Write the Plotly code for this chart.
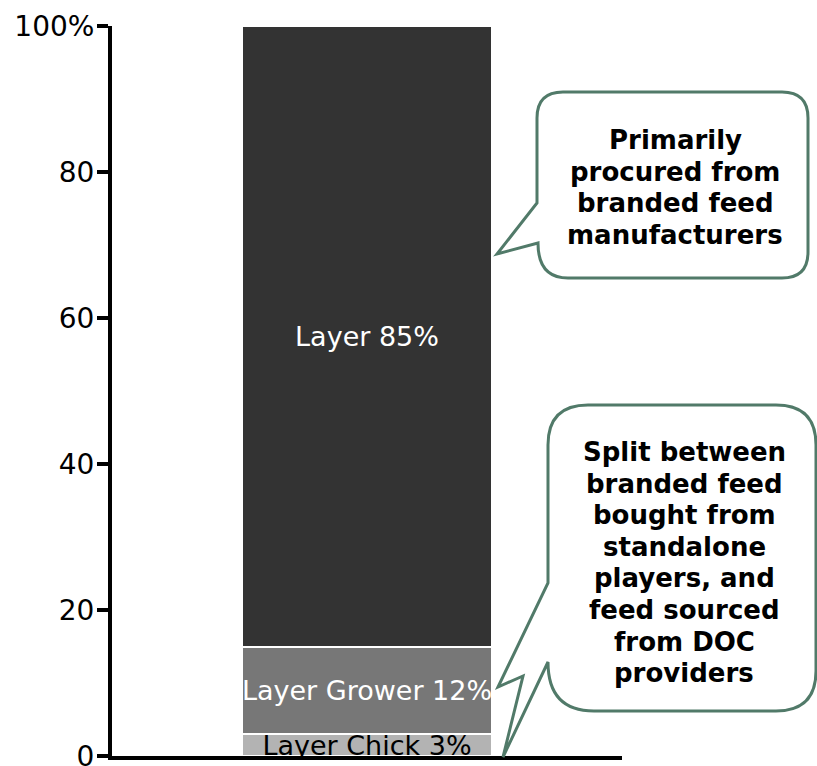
import plotly.graph_objects as go

# Feed volume split for layer birds (share of total, %)
category = ["Layer feed"]
segments = ["Layer Chick", "Layer Grower", "Layer"]
shares = [3, 12, 85]
seg_colors = ["#b3b3b3", "#777777", "#333333"]
text_colors = ["#000000", "#ffffff", "#ffffff"]

tick_vals = [0, 20, 40, 60, 80, 100]
tick_text = ["0", "20", "40", "60", "80", "100%"]

callout_top = ["Primarily", "procured from", "branded feed", "manufacturers"]
callout_bottom = ["Split between", "branded feed", "bought from", "standalone",
                  "players, and", "feed sourced", "from DOC", "providers"]

W, H = 817, 766
ML, MR, MT, MB = 112, 195, 26, 10
PW, PH = W - ML - MR, H - MT - MB

FONT = "DejaVu Sans"
EDGE = "#517a69"


def px(x, y):
    """Pixel position on the page -> paper coordinates."""
    return (x - ML) / PW, (H - MB - y) / PH


def path(cmds):
    out = []
    for c in cmds:
        op, pts = c[0], c[1:]
        coords = " ".join("%.5f,%.5f" % px(*p) for p in pts)
        out.append(op + coords if op != "Z" else "Z")
    return " ".join(out)


fig = go.Figure()
for name, val, col, tcol in zip(segments, shares, seg_colors, text_colors):
    fig.add_trace(go.Bar(
        x=category, y=[val], name=name,
        marker=dict(color=col, line=dict(color="white", width=2)),
        width=0.49,
        text=[f"{name} {val}%"],
        textposition="inside", insidetextanchor="middle",
        textangle=0, constraintext="none",
        textfont=dict(family=FONT, size=27, color=tcol),
        hoverinfo="skip",
    ))

# Speech bubble, upper callout
r = 26
bubble1 = path([
    ("M", (537, 92 + r)), ("Q", (537, 92), (537 + r, 92)),
    ("L", (808 - r, 92)), ("Q", (808, 92), (808, 92 + r)),
    ("L", (808, 278 - r)), ("Q", (808, 278), (808 - r, 278)),
    ("L", (568, 278)), ("Q", (538, 278), (538, 243)),
    ("L", (497, 254)), ("L", (537, 203)), ("Z",),
])

# Speech bubble, lower callout with two pointers
r2 = 40
right2 = 816
bubble2 = path([
    ("M", (548, 405 + r2)), ("Q", (548, 405), (548 + r2, 405)),
    ("L", (right2 - r2, 405)), ("Q", (right2, 405), (right2, 405 + r2)),
    ("L", (right2, 711 - r2)), ("Q", (right2, 711), (right2 - r2, 711)),
    ("L", (594, 711)), ("Q", (548, 711), (548, 662)),
    ("L", (503, 757)), ("L", (523, 676)), ("L", (498, 687)),
    ("L", (548, 583)), ("Z",),
])

for p in (bubble1, bubble2):
    fig.add_shape(type="path", path=p, xref="paper", yref="paper",
                  fillcolor="white", line=dict(color=EDGE, width=3), layer="above")

for lines, cx, y0, step in ((callout_top, 675, 140, 31.7),
                            (callout_bottom, 684, 452, 31.6)):
    for i, line in enumerate(lines):
        ax, ay = px(cx, y0 + i * step)
        fig.add_annotation(text=f"<b>{line}</b>", x=ax, y=ay, xref="paper", yref="paper",
                           showarrow=False, xanchor="center", yanchor="middle",
                           font=dict(family=FONT, size=26, color="black"))

fig.update_layout(
    barmode="stack",
    width=W, height=H,
    margin=dict(l=ML, r=MR, t=MT, b=MB),
    paper_bgcolor="white", plot_bgcolor="white",
    showlegend=False,
    template="none",
    font=dict(family=FONT, size=26, color="black"),
    xaxis=dict(type="category", range=[-0.5, 0.5], showline=True, linewidth=4,
               linecolor="black", showticklabels=False, ticks="", showgrid=False,
               zeroline=False, automargin=False, fixedrange=True),
    yaxis=dict(range=[0, 100], tickvals=tick_vals, ticktext=tick_text,
               ticks="outside", ticklen=11, tickwidth=4, tickcolor="black",
               showline=True, linewidth=4, linecolor="black", showgrid=False,
               zeroline=False, automargin=False, fixedrange=True,
               ticklabeloverflow="allow", ticklabelstandoff=-3,
               tickfont=dict(family=FONT, size=28, color="black")),
)

fig.write_html("out.html")
